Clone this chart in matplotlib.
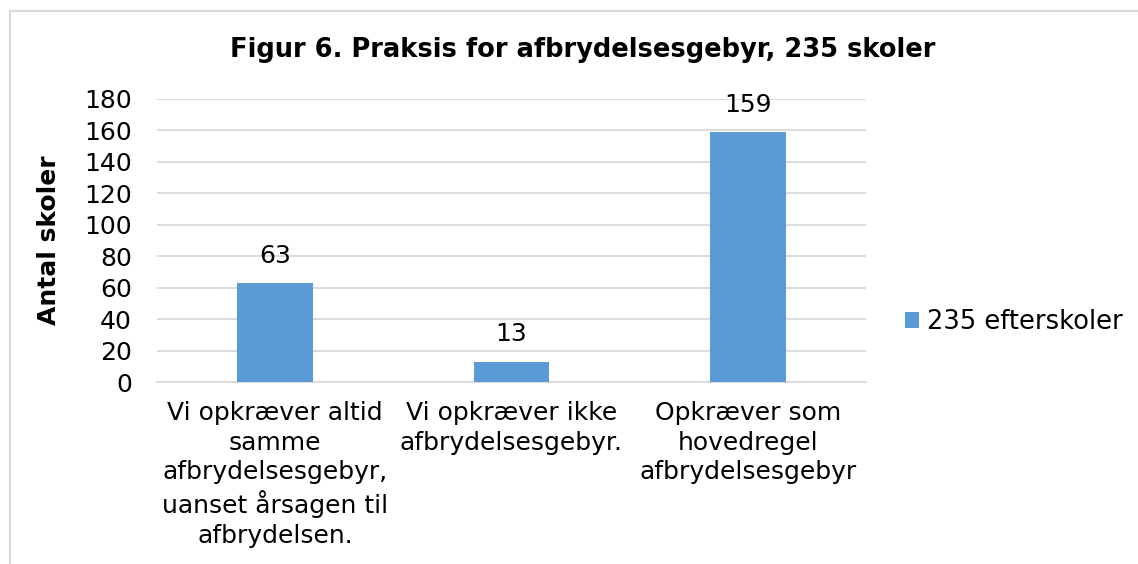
import matplotlib
matplotlib.use("Agg")
from matplotlib import pyplot as plt
from matplotlib.lines import Line2D

plt.rcParams['font.family'] = ['DejaVu Sans']

# data
categories = [
    "Vi opkræver altid\nsamme\nafbrydelsesgebyr,\nuanset årsagen til\nafbrydelsen.",
    "Vi opkræver ikke\nafbrydelsesgebyr.",
    "Opkræver som\nhovedregel\nafbrydelsesgebyr",
]
values = [63, 13, 159]
series_name = "235 efterskoler"
title = "Figur 6. Praksis for afbrydelsesgebyr, 235 skoler"
ylabel = "Antal skoler"
yticks = list(range(0, 181, 20))

bar_color = "#5B9BD5"
grid_color = "#D9D9D9"

fig = plt.figure(figsize=(11.38, 5.64), dpi=100)
ax = fig.add_axes([157 / 1138, 1 - 382 / 564, (866 - 157) / 1138, (382 - 99) / 564])

x = list(range(len(categories)))
bars = ax.bar(x, values, width=0.32, color=bar_color, label=series_name, zorder=3)

for xi, v in zip(x, values):
    ax.annotate(str(v), (xi, v), xytext=(0, 11), textcoords="offset points",
                ha="center", va="bottom", fontsize=18)

ax.set_xlim(-0.5, len(categories) - 0.5)
ax.set_ylim(0, 180)
ax.set_yticks(yticks)
ax.tick_params(axis="y", labelsize=18, length=0, pad=18)
ax.set_xticks(x)
ax.set_xticklabels(categories, fontsize=18, linespacing=1.28)
ax.tick_params(axis="x", length=0, pad=14)
ax.yaxis.grid(True, color=grid_color, linewidth=1.3, zorder=0)
for s in ["top", "right", "left"]:
    ax.spines[s].set_visible(False)
ax.spines["bottom"].set_color(grid_color)
ax.spines["bottom"].set_linewidth(1.3)

ax.set_ylabel(ylabel, fontsize=18, fontweight="bold")
ax.yaxis.set_label_coords((61 - 157) / 709, 0.5)
fig.text(583 / 1138, 1 - 50 / 564, title, ha="center", va="center",
         fontsize=18.5, fontweight="bold")

leg = fig.legend(handles=[bars], labels=[series_name], loc="center left",
                 bbox_to_anchor=(905 / 1138, 1 - 322 / 564), frameon=False,
                 borderpad=0, borderaxespad=0,
                 fontsize=18.5, handlelength=0.55, handleheight=0.55, handletextpad=0.3)

# outer frame (left and top edges visible)
fig.add_artist(Line2D([10 / 1138, 10 / 1138], [0, 1 - 11 / 564],
                      transform=fig.transFigure, color="#D9D9D9", linewidth=1.5))
fig.add_artist(Line2D([10 / 1138, 1], [1 - 11 / 564, 1 - 11 / 564],
                      transform=fig.transFigure, color="#D9D9D9", linewidth=1.5))

fig.savefig("out.png", dpi=100)
